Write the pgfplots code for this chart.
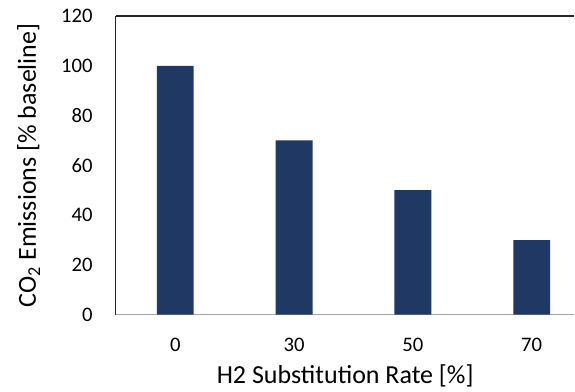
\documentclass[border=0pt]{standalone}
\usepackage{fontspec}
\setmainfont{Carlito}
\usepackage{pgfplots}
\pgfplotsset{compat=1.18}
\definecolor{barblue}{HTML}{203864}
\begin{document}
\begin{tikzpicture}
\begin{axis}[
  name=ax,
  scale only axis,
  width=344.25pt, height=224.25pt,
  xmin=-0.5, xmax=3.36,
  ymin=0, ymax=120,
  ytick={0,20,...,120},
  xtick=data,
  xticklabels={0,30,50,70},
  axis lines=left,
  axis line style={-},
  x axis line style={gray!70, line width=0.8pt},
  y axis line style={black!85, line width=0.8pt},
  major tick length=0pt,
  font=\fontsize{15.5}{18}\selectfont,
  /pgf/number format/assume math mode=true,
  xticklabel style={yshift=-14pt},
  yticklabel style={xshift=-14pt},
  xlabel={H2 Substitution Rate [\%]},
  ylabel={CO\textsubscript{2} Emissions [\% baseline]},
  label style={font=\fontsize{19.5}{22}\selectfont},
  xlabel style={yshift=-3pt},
  ylabel style={yshift=9pt},
  clip=false,
]
\addplot[ybar, bar width=0.31, fill=barblue, draw=none] coordinates {(0,100) (1,70) (2,50) (3,30)};
\draw[black!85, line width=0.8pt] (rel axis cs:0,1) -- (rel axis cs:1,1);
\end{axis}
\path[use as bounding box] ([xshift=-87pt,yshift=-57.75pt]ax.south west) rectangle ([yshift=12pt]ax.north east);
\end{tikzpicture}
\end{document}
